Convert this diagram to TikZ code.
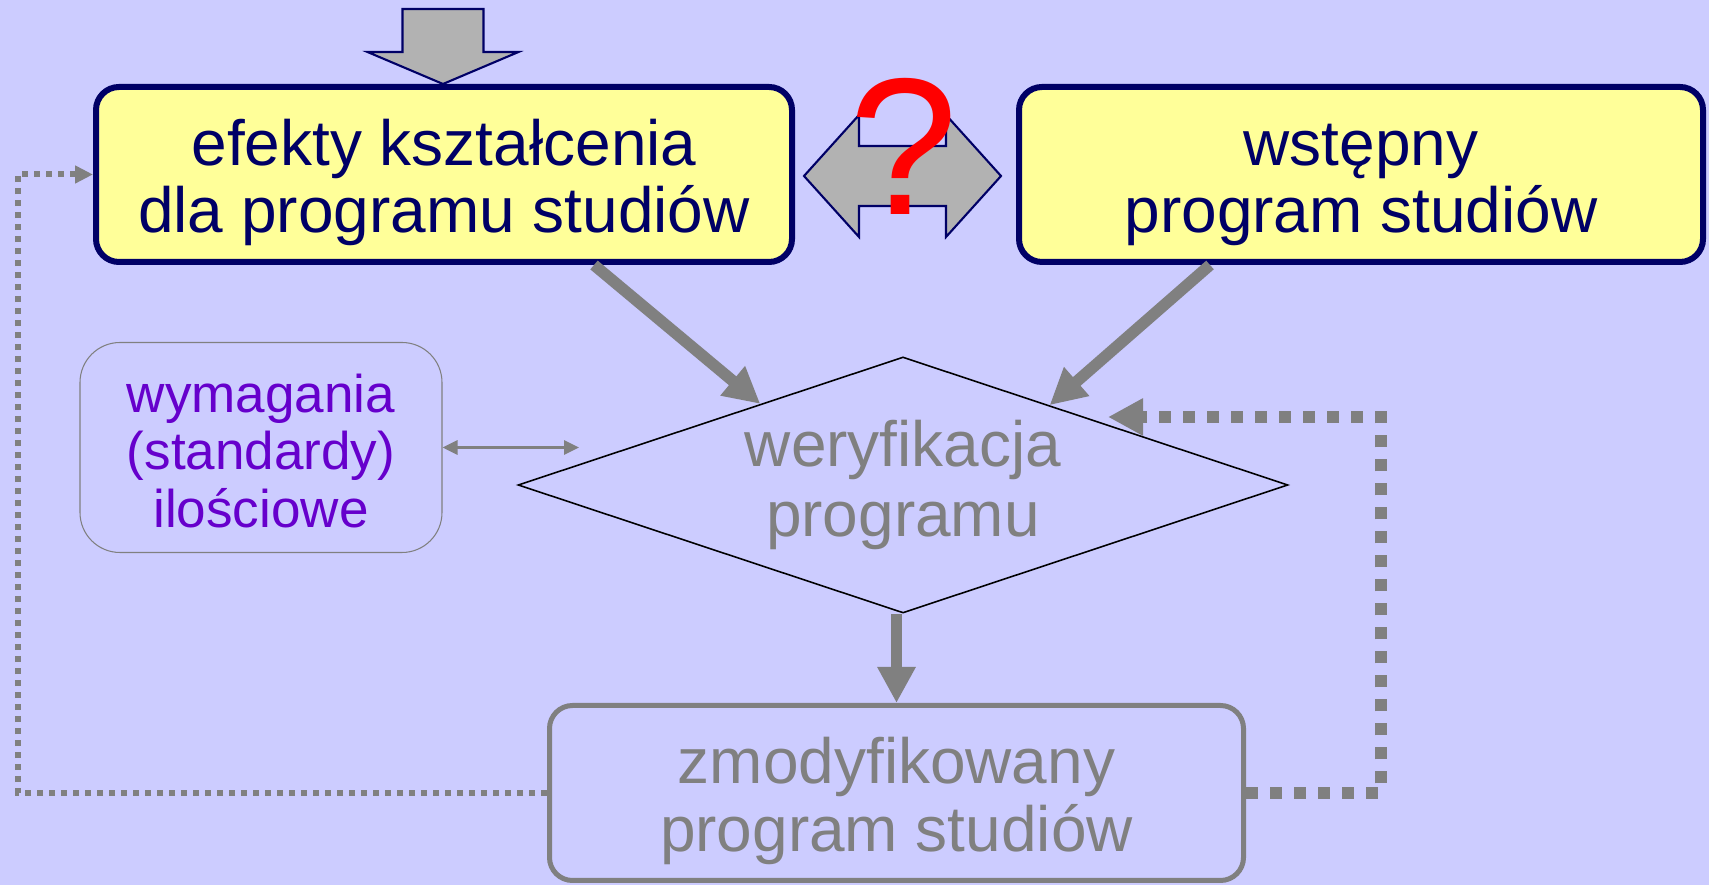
\documentclass[tikz,border=0pt]{standalone}
\usepackage{fontspec}
\setmainfont{Liberation Sans}
\usetikzlibrary{shapes.geometric, arrows.meta, calc}

\definecolor{bgblue}{HTML}{CCCCFF}
\definecolor{paleyellow}{HTML}{FFFF99}
\definecolor{navy}{HTML}{000066}
\definecolor{midgray}{HTML}{808080}
\definecolor{arrowgray}{HTML}{B2B2B2}
\definecolor{reqpurple}{HTML}{6600CC}

% first-line struts to sit the text a bit lower in the boxes
\newcommand{\boxstrut}{\rule{0pt}{35.4pt}}
\newcommand{\reqstrut}{\rule{0pt}{25.9pt}}

\begin{document}
\begin{tikzpicture}[
    box/.style = {
        rectangle,
        rounded corners = 0.46cm,
        align = center,
        inner sep = 0pt,
        font = \fontsize{36.4}{38.6}\selectfont
    },
    inputbox/.style = {box, draw = navy, line width = 0.12cm, fill = paleyellow,
        text = navy, minimum height = 3.5cm},
    resultbox/.style = {box, draw = midgray, line width = 0.1cm, text = midgray,
        minimum width = 13.88cm, minimum height = 3.5cm},
    reqbox/.style = {box, draw = midgray, line width = 0.6pt, text = reqpurple,
        rounded corners = 0.8cm, minimum width = 7.24cm, minimum height = 4.2cm,
        font = \fontsize{30.2}{32.8}\selectfont},
    check/.style = {
        diamond,
        draw = black,
        line width = 0.9pt,
        shape aspect = 3,
        inner sep = 0pt,
        minimum width = 15.4cm,
        minimum height = 5.12cm,
        align = center,
        text = midgray,
        font = \fontsize{36.4}{39.8}\selectfont
    },
    blockarrow/.style = {draw = navy, line width = 1.2pt, fill = arrowgray, line join = miter},
    bigarrow/.style = {draw = midgray, line width = 0.23cm,
        -{Triangle[length = 0.72cm, width = 0.72cm]}},
    thinarrow/.style = {draw = midgray, line width = 0.06cm,
        {Triangle[length = 0.3cm, width = 0.28cm]}-{Triangle[length = 0.3cm, width = 0.28cm]}},
    loopthick/.style = {draw = midgray, line width = 0.24cm, dash pattern = on 0.24cm off 0.24cm,
        -{Triangle[length = 0.7cm, width = 0.7cm]}},
    loopthin/.style = {draw = midgray, line width = 0.12cm, dash pattern = on 0.12cm off 0.12cm,
        -{Triangle[length = 0.36cm, width = 0.34cm]}}
]

% Background
\fill[bgblue] (0, 0) rectangle (34.18, 17.70);
\useasboundingbox (0, 0) rectangle (34.18, 17.70);

% Top row: learning outcomes and initial programme
\node[inputbox, minimum width = 13.92cm] (efekty) at (8.88, 14.21) {
    \boxstrut efekty kształcenia\\dla programu studiów
};
\node[inputbox, minimum width = 13.68cm] (wstepny) at (27.22, 14.21) {
    \boxstrut wstępny\\program studiów
};

% Block arrow entering from the top
\draw[blockarrow] (8.86, 16.02) -- ++(-1.51, 0.64) -- ++(0.70, 0) -- ++(0, 0.86)
    -- ++(1.62, 0) -- ++(0, -0.86) -- ++(0.70, 0) -- cycle;

% Double block arrow with question mark
\coordinate (dblmid) at (18.05, 14.18);
\draw[blockarrow] (dblmid) ++(-1.97, 0) -- ++(1.10, 1.22) -- ++(0, -0.62) -- ++(1.74, 0)
    -- ++(0, 0.62) -- ++(1.10, -1.22) -- ++(-1.10, -1.22) -- ++(0, 0.62)
    -- ++(-1.74, 0) -- ++(0, -0.62) -- cycle;
\node[anchor = base, inner sep = 0pt, text = red, font = \fontsize{111}{111}\selectfont]
    (pytanie) at (18.08, 13.40) {?};

% Verification
\node[check] (weryf) at (18.06, 8.00) {weryfikacja\\programu};

% Quantitative requirements
\node[reqbox] (wymag) at (5.22, 8.75) {\reqstrut wymagania\\(standardy)\\ilościowe};
\coordinate (wymagend) at (11.58, 8.75);

% Modified programme
\node[resultbox] (zmod) at (17.93, 1.84) {\boxstrut zmodyfikowany\\program studiów};

% Main flow
\draw[bigarrow] ([xshift = 3cm]efekty.south) -- ($(weryf.west)!0.63!(weryf.north)$);
\draw[bigarrow] ([xshift = -3.02cm]wstepny.south) -- ($(weryf.east)!0.62!(weryf.north)$);
\draw[bigarrow] (weryf.south -| zmod.north) -- (zmod.north);
\draw[thinarrow] (wymag.east) -- (wymagend);

% Feedback loops
\coordinate (looptip) at (22.16, 9.36);
\draw[loopthick] (zmod.east) -- ++(2.69, 0) |- (looptip);
\draw[loopthin] (zmod.west) -- ++(-10.58, 0) |- (efekty.west);

\end{tikzpicture}
\end{document}
